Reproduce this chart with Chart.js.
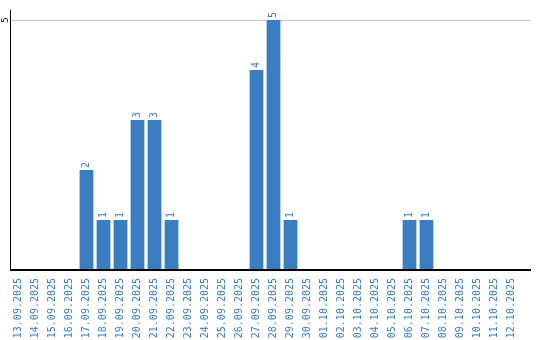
<!DOCTYPE html>
<html>
<head>
<meta charset="utf-8">
<script src="https://cdn.jsdelivr.net/npm/chart.js@4.4.0/dist/chart.umd.min.js"></script>
<style>
  body { margin: 0; background: #fff; }
  canvas { display: block; }
</style>
</head>
<body>
<canvas id="myChart" width="540" height="340"></canvas>
<script>
// Data
var dates = [
    '13.09.2025', '14.09.2025', '15.09.2025', '16.09.2025', '17.09.2025', '18.09.2025',
    '19.09.2025', '20.09.2025', '21.09.2025', '22.09.2025', '23.09.2025', '24.09.2025',
    '25.09.2025', '26.09.2025', '27.09.2025', '28.09.2025', '29.09.2025', '30.09.2025',
    '01.10.2025', '02.10.2025', '03.10.2025', '04.10.2025', '05.10.2025', '06.10.2025',
    '07.10.2025', '08.10.2025', '09.10.2025', '10.10.2025', '11.10.2025', '12.10.2025'
];
var counts = [0, 0, 0, 0, 2, 1, 1, 3, 3, 1, 0, 0, 0, 0, 4, 5, 1, 0, 0, 0, 0, 0, 0, 1, 1, 0, 0, 0, 0, 0];
var yTicks = [5];

var barColor = '#3b7dc3';
var textColor = '#3a7cc2';

// draws axis lines, the gridline, the y tick and the bar value labels
var decorPlugin = {
    id: 'decor',
    beforeDatasetsDraw: function (chart) {
        var c = chart.ctx;
        var area = chart.chartArea;
        var y = chart.scales.y;
        var ext = area.right + 11;
        c.save();
        c.strokeStyle = '#c8c8c8';
        c.lineWidth = 1;
        yTicks.forEach(function (v) {
            var py = Math.round(y.getPixelForValue(v)) + 0.5;
            c.beginPath();
            c.moveTo(area.left, py);
            c.lineTo(ext, py);
            c.stroke();
        });
        c.restore();
    },
    afterDatasetsDraw: function (chart) {
        var c = chart.ctx;
        var area = chart.chartArea;
        var y = chart.scales.y;
        var ext = area.right + 11;
        c.save();
        c.strokeStyle = '#000';
        c.lineWidth = 2;
        c.beginPath();
        c.moveTo(area.left, area.bottom);
        c.lineTo(ext, area.bottom);
        c.stroke();
        c.lineWidth = 1;
        c.beginPath();
        c.moveTo(area.left + 0.5, area.top);
        c.lineTo(area.left + 0.5, area.bottom);
        c.stroke();

        // y tick labels (rotated)
        c.fillStyle = '#000';
        c.font = '9px "DejaVu Sans Mono"';
        c.textAlign = 'center';
        c.textBaseline = 'middle';
        yTicks.forEach(function (v) {
            c.save();
            c.translate(area.left - 4, y.getPixelForValue(v));
            c.rotate(-Math.PI / 2);
            c.fillText(String(v), 0, 0);
            c.restore();
        });

        // value labels above the bars
        c.fillStyle = textColor;
        c.font = '10px "DejaVu Sans Mono"';
        c.textAlign = 'left';
        c.textBaseline = 'middle';
        var meta = chart.getDatasetMeta(0);
        meta.data.forEach(function (bar, i) {
            if (!counts[i]) return;
            c.save();
            c.translate(bar.x, bar.y - 2);
            c.rotate(-Math.PI / 2);
            c.fillText(String(counts[i]), 0, 0);
            c.restore();
        });
        c.restore();
    }
};

var ctx = document.getElementById('myChart').getContext('2d');
var myChart = new Chart(ctx, {
    type: 'bar',
    data: {
        labels: dates,
        datasets: [{
            data: counts,
            backgroundColor: barColor,
            borderWidth: 0,
            barPercentage: 0.9,
            categoryPercentage: 0.9
        }]
    },
    options: {
        responsive: false,
        animation: false,
        layout: { padding: { top: 10, right: 20, left: 0, bottom: 0 } },
        plugins: {
            legend: { display: false },
            tooltip: { enabled: false }
        },
        scales: {
            x: {
                grid: { display: false },
                border: { display: false },
                ticks: {
                    color: textColor,
                    font: { family: 'DejaVu Sans Mono', size: 10 },
                    minRotation: 90,
                    maxRotation: 90,
                    autoSkip: false,
                    padding: 0
                },
                afterFit: function (scale) { scale.height = 70; }
            },
            y: {
                min: 0,
                max: 5.2,
                grid: { display: false },
                border: { display: false },
                ticks: { display: false },
                afterFit: function (scale) { scale.width = 10; }
            }
        }
    },
    plugins: [decorPlugin]
});
</script>
</body>
</html>
